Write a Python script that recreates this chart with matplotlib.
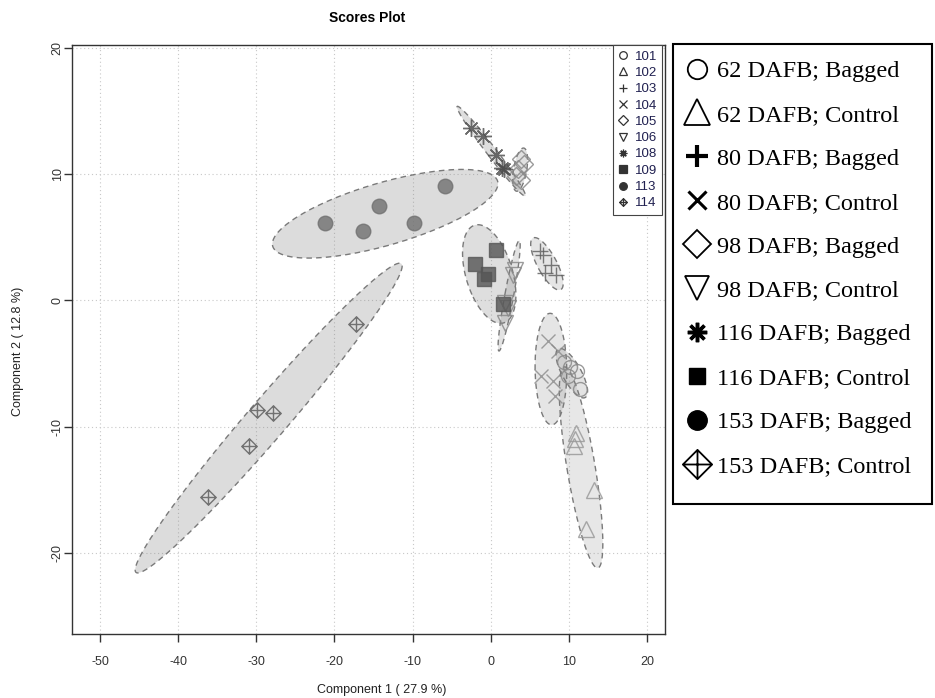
import numpy as np
import matplotlib
matplotlib.use("Agg")
import matplotlib.pyplot as plt
from matplotlib.path import Path
from matplotlib.lines import Line2D
from matplotlib.patches import Rectangle

# ---------------- data ----------------
group_ids = ["101", "102", "103", "104", "105", "106", "108", "109", "113", "114"]
group_names = ["62 DAFB; Bagged", "62 DAFB; Control", "80 DAFB; Bagged", "80 DAFB; Control",
               "98 DAFB; Bagged", "98 DAFB; Control", "116 DAFB; Bagged", "116 DAFB; Control",
               "153 DAFB; Bagged", "153 DAFB; Control"]

x_101 = [9.45, 10.1, 11.1, 9.9, 11.4]
y_101 = [-4.9, -5.3, -5.6, -6.0, -7.0]
x_102 = [10.9, 10.7, 10.8, 13.3, 12.2]
y_102 = [-10.5, -11.5, -11.0, -15.0, -18.1]
x_103 = [6.3, 6.7, 7.75, 6.9, 8.4]
y_103 = [3.9, 3.6, 2.8, 2.15, 2.0]
x_104 = [7.3, 8.6, 6.5, 8.0, 8.2]
y_104 = [-3.2, -4.0, -6.0, -6.4, -7.6]
x_105 = [3.9, 4.3, 3.5, 3.3, 3.9]
y_105 = [11.2, 10.8, 10.4, 9.8, 9.5]
x_106 = [3.1, 2.85, 1.8, 2.2, 1.9]
y_106 = [2.4, 2.0, -0.2, -0.6, -1.8]
x_108 = [-2.5, -1.0, 0.7, 1.5, 1.7]
y_108 = [13.6, 13.0, 11.5, 10.5, 10.4]
x_109 = [0.7, -2.0, -0.9, -0.3, 1.6]
y_109 = [4.0, 2.9, 1.7, 2.1, -0.3]
x_113 = [-21.2, -16.3, -14.3, -9.8, -5.9]
y_113 = [6.1, 5.5, 7.5, 6.1, 9.05]
x_114 = [-17.2, -29.9, -27.9, -30.9, -36.2]
y_114 = [-1.87, -8.7, -8.9, -11.5, -15.6]

xs = [x_101, x_102, x_103, x_104, x_105, x_106, x_108, x_109, x_113, x_114]
ys = [y_101, y_102, y_103, y_104, y_105, y_106, y_108, y_109, y_113, y_114]

x_ticks = [-50, -40, -30, -20, -10, 0, 10, 20]
y_ticks = [-20, -10, 0, 10, 20]

# ---------------- styles ----------------
diamond_plus = Path(
    [(0, 1), (1, 0), (0, -1), (-1, 0), (0, 1), (0, 1), (0, -1), (-1, 0), (1, 0)],
    [Path.MOVETO, Path.LINETO, Path.LINETO, Path.LINETO, Path.CLOSEPOLY,
     Path.MOVETO, Path.LINETO, Path.MOVETO, Path.LINETO])
asterisk = (8, 2, 0)

markers = ["o", "^", "+", "x", "D", "v", asterisk, "s", "o", diamond_plus]
filled = [False, False, True, True, False, False, True, True, True, False]
point_cols = ["#8a8a8a", "#9a9a9a", "#5a5a5a", "#8a8a8a", "#8a8a8a", "#8a8a8a",
              "#4a4a4a", "#555555", "#707070", "#606060"]
point_ms = [10, 12, 11, 10, 9, 11, 12, 10, 10.5, 11]
fill_alpha = [0.10, 0.07, 0.08, 0.08, 0.12, 0.10, 0.14, 0.14, 0.15, 0.15]

plt.rcParams["font.family"] = ["Liberation Sans", "DejaVu Sans"]
plt.rcParams["axes.unicode_minus"] = False

fig = plt.figure(figsize=(9.35, 6.98), dpi=100)
ax = fig.add_axes([0.077, 0.0917, 0.634, 0.8438])
ax.set_xlim(-53.6, 22.3)
ax.set_ylim(-26.4, 20.2)

ax.set_xticks(x_ticks)
ax.set_yticks(y_ticks)
ax.grid(True, color="#c8c8c8", linestyle=(0, (1, 2.5)), linewidth=0.8)
ax.set_axisbelow(True)

t = np.sqrt(-2 * np.log(0.05))
theta = np.linspace(0, 2 * np.pi, 200)
for i in range(len(group_ids)):
    px = np.array(xs[i]); py = np.array(ys[i])
    cov = np.cov(px, py)
    w, v = np.linalg.eigh(cov)
    circ = np.vstack([np.cos(theta), np.sin(theta)])
    pts = v @ (np.sqrt(np.maximum(w, 0))[:, None] * circ) * t
    ex = pts[0] + px.mean(); ey = pts[1] + py.mean()
    ax.fill(ex, ey, facecolor=(0.5, 0.5, 0.5, fill_alpha[i] + 0.12), edgecolor="none", zorder=1)
    ax.plot(ex, ey, color="#7a7a7a", linestyle=(0, (4, 3)), linewidth=1.0, zorder=2)

for i in range(len(group_ids)):
    col = point_cols[i]
    if filled[i]:
        ax.plot(xs[i], ys[i], linestyle="none", marker=markers[i], ms=point_ms[i],
                color=col, mec=col, mew=1.0, alpha=0.8, zorder=3)
    else:
        ax.plot(xs[i], ys[i], linestyle="none", marker=markers[i], ms=point_ms[i],
                mfc="none", mec=col, mew=1.0, alpha=0.85, zorder=3)

for s in ax.spines.values():
    s.set_color("#333333")
    s.set_linewidth(1.0)
ax.tick_params(direction="out", length=6, width=1, colors="#333333", labelsize=9)
ax.tick_params(axis="x", pad=10)
ax.tick_params(axis="y", pad=0)
for lab in ax.get_yticklabels():
    lab.set_rotation(90)
    lab.set_va("center")

ax.set_xlabel("Component 1 ( 27.9 %)", fontsize=9, color="#222222")
ax.set_ylabel("Component 2 ( 12.8 %)", fontsize=9, color="#222222")
ax.xaxis.set_label_coords(0.523, -0.085)
ax.yaxis.set_label_coords(-0.081, 0.48)
fig.text(0.393, 0.974, "Scores Plot", fontsize=10, fontweight="bold", ha="center", va="center")

# inner legend
inner_handles = []
for i in range(len(group_ids)):
    if filled[i]:
        h = Line2D([], [], linestyle="none", marker=markers[i], ms=5.5, color="#333333", mew=0.9)
    else:
        h = Line2D([], [], linestyle="none", marker=markers[i], ms=5.5, mfc="none", mec="#333333", mew=0.9)
    inner_handles.append(h)
leg1 = ax.legend(inner_handles, group_ids, loc="upper right", bbox_to_anchor=(0.9955, 1.0),
                 fontsize=9.5, labelcolor="#202050", frameon=True, fancybox=False,
                 edgecolor="#444444", framealpha=1, handlelength=0.8, handletextpad=0.45,
                 labelspacing=0.31, borderpad=0.4, borderaxespad=0)
leg1.get_frame().set_linewidth(0.8)

# outer legend
big_ms = [14, 19, 16, 13, 14, 17, 14, 11, 14, 21]
big_mew = [1.3, 1.3, 3.0, 2.2, 1.3, 1.3, 2.5, 1.0, 1.0, 1.3]
big_handles = []
for i in range(len(group_ids)):
    if filled[i]:
        h = Line2D([], [], linestyle="none", marker=markers[i], ms=big_ms[i], color="black", mew=big_mew[i])
    else:
        h = Line2D([], [], linestyle="none", marker=markers[i], ms=big_ms[i], mfc="none", mec="black", mew=big_mew[i])
    big_handles.append(h)
fig.patches.append(Rectangle((673 / 935, 1 - 504 / 698), 259 / 935, 460 / 698,
                             transform=fig.transFigure, facecolor="white", edgecolor="black",
                             linewidth=1.5, zorder=0))
leg2 = fig.legend(big_handles, group_names, loc="upper left", bbox_to_anchor=(685 / 935, 1 - 60 / 698),
                  prop={"family": ["Liberation Serif"], "size": 17.5}, frameon=False,
                  handlelength=0.97, handletextpad=0.34,
                  labelspacing=0.9, borderpad=0.0, borderaxespad=0)

fig.savefig("out.png", dpi=100)
